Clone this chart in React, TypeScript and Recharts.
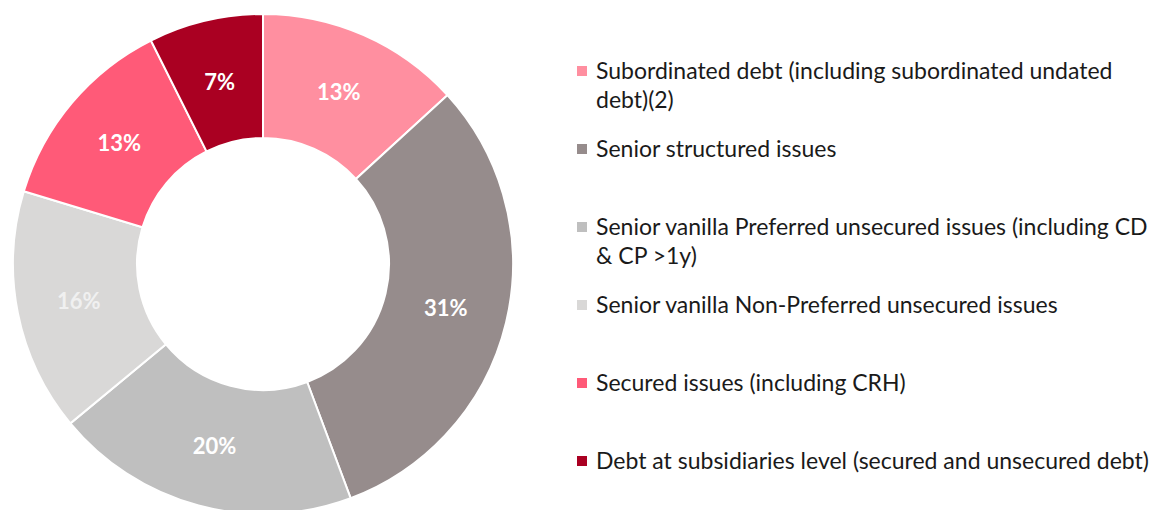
import { PieChart, Pie, Cell } from "recharts"

const CATEGORIES = [
  "Subordinated debt (including subordinated undated\ndebt)(2)",
  "Senior structured issues",
  "Senior vanilla Preferred unsecured issues (including CD\n& CP >1y)",
  "Senior vanilla Non-Preferred unsecured issues",
  "Secured issues (including CRH)",
  "Debt at subsidiaries level (secured and unsecured debt)",
]
const SHARES = [13.2, 31.1, 19.7, 15.7, 12.9, 7.4]
const COLORS = ["#FF8FA0", "#968C8C", "#BFBFBF", "#D9D8D7", "#FF5A78", "#AA0022"]
const LABEL_COLORS = ["#FFFFFF", "#FFFFFF", "#FFFFFF", "#F0F0F0", "#FFFFFF", "#FFFFFF"]

const data = CATEGORIES.map((name, i) => ({ name, value: SHARES[i] }))

const FONT = "Lato, 'Noto Sans', sans-serif"
const RAD = Math.PI / 180

function renderLabel(props: any) {
  const { cx, cy, midAngle, innerRadius, outerRadius, value, index } = props
  const r = (innerRadius + outerRadius) / 2
  const x = cx + r * Math.cos(-midAngle * RAD)
  const y = cy + r * Math.sin(-midAngle * RAD)
  return (
    <text
      x={x}
      y={y}
      fill={LABEL_COLORS[index]}
      textAnchor="middle"
      dominantBaseline="central"
      fontSize={22}
      fontWeight={700}
      fontFamily={FONT}
    >
      {`${Math.round(value)}%`}
    </text>
  )
}

function LegendList() {
  return (
    <div
      style={{
        position: "absolute",
        left: 577,
        top: 56,
        width: 574,
        fontFamily: FONT,
        fontSize: 23,
        lineHeight: "29px",
        color: "#1a1a1a",
      }}
    >
      {data.map((entry, i) => (
        <div key={`item-${i}`} style={{ display: "flex", height: 78 }}>
          <div
            style={{
              width: 10,
              height: 10,
              marginTop: 10,
              marginRight: 9,
              flexShrink: 0,
              background: COLORS[i],
            }}
          />
          <div style={{ whiteSpace: "pre" }}>{entry.name}</div>
        </div>
      ))}
    </div>
  )
}

export default function App() {
  return (
    <div style={{ position: "absolute", left: 0, top: 0, width: 1151, height: 510, overflow: "hidden", background: "#fff" }}>
      <PieChart width={560} height={530} margin={{ top: 0, right: 0, bottom: 0, left: 0 }}>
        <Pie
          data={data}
          dataKey="value"
          nameKey="name"
          cx={263}
          cy={264}
          innerRadius={126}
          outerRadius={250}
          startAngle={90}
          endAngle={-270}
          stroke="#ffffff"
          strokeWidth={2}
          label={renderLabel}
          labelLine={false}
          isAnimationActive={false}
        >
          {data.map((entry, index) => (
            <Cell key={`cell-${index}`} fill={COLORS[index]} />
          ))}
        </Pie>
      </PieChart>
      <LegendList />
    </div>
  )
}
